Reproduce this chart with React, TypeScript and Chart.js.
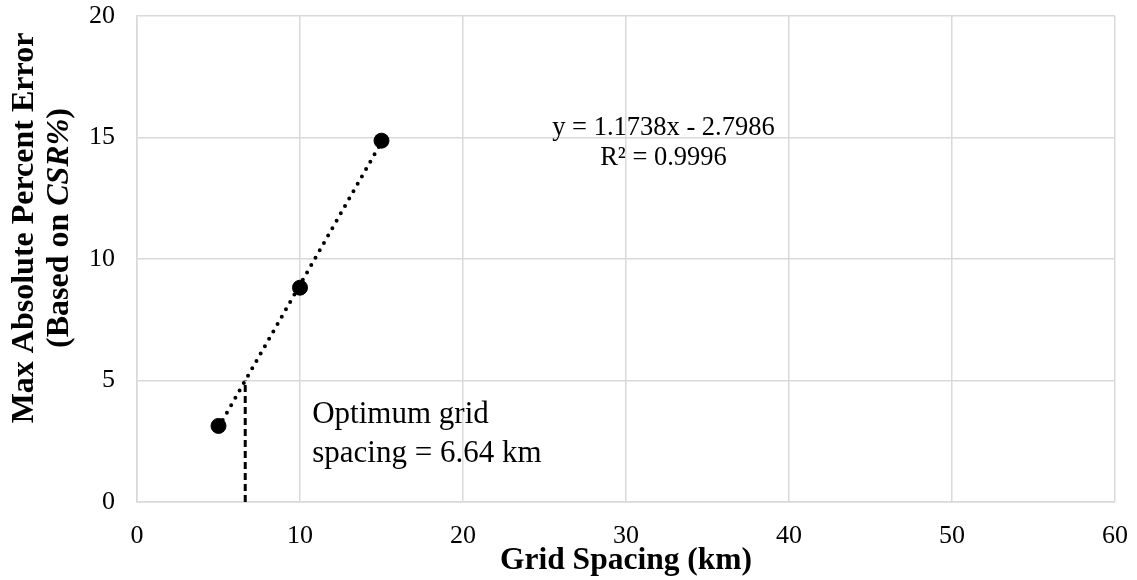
import React, { useEffect, useRef } from "react";
import { Chart, registerables } from "chart.js";

Chart.register(...registerables);

// Measured points: grid spacing (km) vs max absolute percent error
const gridSpacing = [5, 10, 15];
const maxError = [3.13, 8.82, 14.87];

// Linear fit reported on the chart
const slope = 1.1738;
const intercept = -2.7986;
const rSquared = "0.9996";

// Optimum grid spacing and the error level it meets
const optimumSpacing = 6.64;
const targetError = 5;

const xTicks = [0, 10, 20, 30, 40, 50, 60];
const yTicks = [0, 5, 10, 15, 20];

const SERIF = "'Liberation Serif', 'Times New Roman', serif";

const annotationPlugin = {
  id: "annotations",
  afterDatasetsDraw(chart: any) {
    const { ctx, scales } = chart;
    const xs = scales.x;
    ctx.save();
    ctx.fillStyle = "#000";
    ctx.textBaseline = "alphabetic";

    // trendline equation
    ctx.font = `26.5px ${SERIF}`;
    ctx.textAlign = "center";
    const eqX = xs.getPixelForValue(32.3);
    ctx.fillText(`y = ${slope}x - ${Math.abs(intercept)}`, eqX, 135);
    ctx.fillText(`R² = ${rSquared}`, eqX, 165);

    // optimum label
    ctx.font = `31px ${SERIF}`;
    ctx.textAlign = "left";
    const optX = xs.getPixelForValue(10.75);
    ctx.fillText("Optimum grid", optX, 423);
    ctx.fillText(`spacing = ${optimumSpacing} km`, optX, 462);
    ctx.restore();
  },
  afterDraw(chart: any) {
    const { ctx, chartArea } = chart;
    ctx.save();
    ctx.fillStyle = "#000";
    ctx.textBaseline = "alphabetic";

    // x axis title
    ctx.font = `bold 31.5px ${SERIF}`;
    ctx.textAlign = "center";
    ctx.fillText("Grid Spacing (km)", (chartArea.left + chartArea.right) / 2, 569);

    // y axis title, two rotated lines with italic CSR%
    const cy = 228;
    ctx.translate(0, cy);
    ctx.rotate(-Math.PI / 2);
    ctx.font = `bold 32px ${SERIF}`;
    ctx.textAlign = "center";
    ctx.fillText("Max Absolute Percent Error", 0, 33);

    const parts: [string, string][] = [
      ["(Based on ", `bold 32px ${SERIF}`],
      ["CSR%", `italic bold 32px ${SERIF}`],
      [")", `bold 32px ${SERIF}`],
    ];
    let total = 0;
    const widths = parts.map(([t, f]) => {
      ctx.font = f;
      const w = ctx.measureText(t).width;
      total += w;
      return w;
    });
    ctx.textAlign = "left";
    let px = -total / 2;
    parts.forEach(([t, f], i) => {
      ctx.font = f;
      ctx.fillText(t, px, 68);
      px += widths[i];
    });
    ctx.restore();
  },
};

const clearScalePadding = (s: any) => {
  s.paddingTop = 0;
  s.paddingBottom = 0;
  s.paddingLeft = 0;
  s.paddingRight = 0;
};

export default function App() {
  const canvasRef = useRef<HTMLCanvasElement | null>(null);

  useEffect(() => {
    document.body.style.margin = "0";
    const canvas = canvasRef.current;
    if (!canvas) return;

    const points = gridSpacing.map((x, i) => ({ x, y: maxError[i] }));
    const xMin = Math.min(...gridSpacing);
    const xMax = Math.max(...gridSpacing);
    const trend = [
      { x: xMin, y: slope * xMin + intercept },
      { x: xMax, y: slope * xMax + intercept },
    ];
    const optimumLine = [
      { x: optimumSpacing, y: 0 },
      { x: optimumSpacing, y: targetError },
    ];

    const gridColor = "#d9d9d9";

    const chart = new Chart(canvas, {
      type: "scatter",
      data: {
        datasets: [
          {
            label: "Max error",
            data: points,
            backgroundColor: "#000",
            borderColor: "#000",
            pointRadius: 7.5,
            pointHoverRadius: 7.5,
            showLine: false,
          },
          {
            label: "Linear fit",
            data: trend,
            showLine: true,
            borderColor: "#000",
            borderWidth: 4,
            borderDash: [0, 8.5],
            borderCapStyle: "round",
            pointRadius: 0,
            fill: false,
          },
          {
            label: "Optimum",
            data: optimumLine,
            showLine: true,
            borderColor: "#000",
            borderWidth: 3,
            borderDash: [7, 4],
            pointRadius: 0,
            fill: false,
          },
        ],
      },
      options: {
        responsive: false,
        animation: false,
        events: [],
        layout: { padding: { top: 16, right: 22, left: 0, bottom: 0 } },
        plugins: {
          legend: { display: false },
          tooltip: { enabled: false },
          title: { display: false },
        },
        scales: {
          x: {
            type: "linear",
            min: xTicks[0],
            max: xTicks[xTicks.length - 1],
            afterBuildTicks: (s: any) => {
              s.ticks = xTicks.map((v) => ({ value: v }));
            },
            afterFit: (s: any) => {
              s.height = 78;
              clearScalePadding(s);
            },
            ticks: {
              color: "#000",
              padding: 19,
              font: { family: SERIF, size: 26 },
            },
            grid: { color: gridColor, lineWidth: 1.5, drawTicks: false },
            border: { color: gridColor, width: 1.5 },
          },
          y: {
            type: "linear",
            min: yTicks[0],
            max: yTicks[yTicks.length - 1],
            afterBuildTicks: (s: any) => {
              s.ticks = yTicks.map((v) => ({ value: v }));
            },
            afterFit: (s: any) => {
              s.width = 137;
              clearScalePadding(s);
            },
            ticks: {
              color: "#000",
              padding: 22,
              font: { family: SERIF, size: 26 },
            },
            grid: { color: gridColor, lineWidth: 1.5, drawTicks: false },
            border: { color: gridColor, width: 1.5 },
          },
        },
      },
      plugins: [annotationPlugin],
    });

    return () => chart.destroy();
  }, []);

  return (
    <div style={{ width: 1137, height: 580, background: "#fff" }}>
      <canvas ref={canvasRef} width={1137} height={580} />
    </div>
  );
}
